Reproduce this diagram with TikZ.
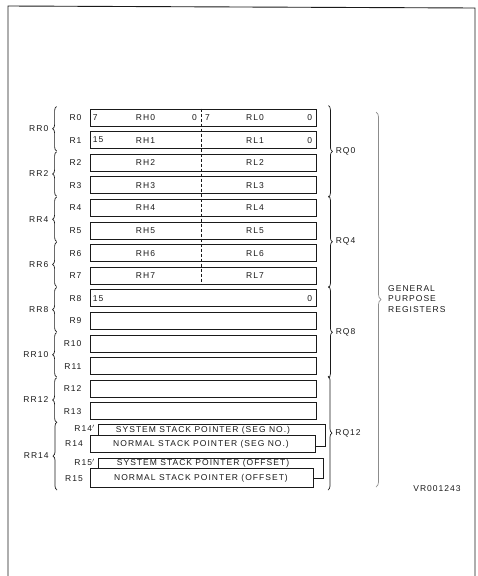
\documentclass[tikz,border=0pt]{standalone}
\usepackage{fontspec}
\setsansfont[LetterSpace=12]{Liberation Sans}
\usetikzlibrary{decorations.pathreplacing,positioning}
\definecolor{ink}{HTML}{1A1A1A}
\definecolor{faded}{HTML}{8C8C8C}
\tikzset{
  reg/.style={draw=ink,line width=.8pt,fill=white,minimum width=226pt,minimum height=17pt,inner sep=0pt},
  spbox/.style={draw=ink,line width=.8pt,fill=white,inner sep=0pt},
  txt/.style={font=\sffamily\fontsize{8.5}{10.5}\selectfont,text=ink,inner sep=1pt},
  brc/.style={decorate,decoration={brace,amplitude=4pt},draw=ink,line width=.7pt},
  brcf/.style={brc,draw=faded,decoration={brace,amplitude=5pt}},
  divl/.style={draw=ink,line width=.7pt,dash pattern=on 3pt off 2pt},
}
\begin{document}
\begin{tikzpicture}[x=1pt,y=-1pt]
  \useasboundingbox (0,0) rectangle (478,576);
  \draw[ink,line width=.9pt] (8,576) -- (8,6) -- (475,8) -- (475,576);

  % R0 ... R13
  \foreach \i in {0,...,13}{
    \node[reg] (r\i) at (203,{117.5+22.6*\i}) {};
    \node[txt,left=7pt of r\i] (n\i) {R\i};
  }
  \foreach \i in {0,...,7}{
    \node[txt] (rh\i) at (145.5,{117.5+22.6*\i}) {RH\i};
    \node[txt] (rl\i) at (255,{117.5+22.6*\i}) {RL\i};
  }
  \draw[divl] ([xshift=-2pt]r0.north) -- ([xshift=-2pt]r7.south);

  % bit numbers
  \node[txt,anchor=west] (b0a) at ([xshift=2pt]r0.west) {7};
  \node[txt,anchor=east] (b0b) at (198,117.5) {0};
  \node[txt,anchor=west] (b0c) at (204,117.5) {7};
  \node[txt,anchor=east] (b0d) at ([xshift=-3pt]r0.east) {0};
  \node[txt,anchor=west] (b1a) at ([xshift=2pt]r1.west) {15};
  \node[txt,anchor=east] (b1b) at ([xshift=-3pt]r1.east) {0};
  \node[txt,anchor=west] (b8a) at ([xshift=2pt]r8.west) {15};
  \node[txt,anchor=east] (b8b) at ([xshift=-3pt]r8.east) {0};

  % stack pointers
  \node[spbox,minimum width=227pt,minimum height=22pt] (r14s) at (211.5,435) {};
  \node[spbox,minimum width=225pt,minimum height=17pt] (r14) at (202.5,443.5) {};
  \node[spbox,minimum width=225pt,minimum height=20pt] (r15s) at (210.5,468) {};
  \node[spbox,minimum width=223pt,minimum height=19pt] (r15) at (201.5,478) {};
  \node[txt] (t14s) at (203,430) {SYSTEM STACK POINTER (SEG NO.)};
  \node[txt] (t14) at (201,444) {NORMAL STACK POINTER (SEG NO.)};
  \node[txt] (t15s) at (203,463) {SYSTEM STACK POINTER (OFFSET)};
  \node[txt] (t15) at (201,478) {NORMAL STACK POINTER (OFFSET)};
  \node[txt,anchor=east] (n14s) at (96,428) {R14$'$};
  \node[txt,anchor=east] (n14) at (84,444) {R14};
  \node[txt,anchor=east] (n15s) at (96,462) {R15$'$};
  \node[txt,anchor=east] (n15) at (84,479) {R15};

  % register pairs
  \foreach \k [evaluate=\k as \j using int(\k+1)] in {0,2,...,12}
    \draw[brc] ([xshift=-33pt,yshift=-2pt]r\j.south west) -- node[txt,left=7pt] (rr\k) {RR\k} ([xshift=-33pt,yshift=2pt]r\k.north west);
  \draw[brc] (57,490) -- node[txt,left=7pt] (rr14) {RR14} (57,422);

  % register quads
  \foreach \k [evaluate=\k as \j using int(\k+3)] in {0,4,8}
    \draw[brc] ([xshift=12pt,yshift=3pt]r\k.north east) -- node[txt,right=6pt] (rq\k) {RQ\k} ([xshift=12pt,yshift=-3pt]r\j.south east);
  \draw[brc] (328,376) -- node[txt,right=6pt] (rq12) {RQ12} (328,490);

  % whole file
  \draw[brcf] (376,112) -- (376,487);
  \node[txt,anchor=west,align=left] (gpr) at (387,299) {GENERAL\\PURPOSE\\REGISTERS};
  \node[txt] (fig) at (437,489) {VR001243};
\end{tikzpicture}
\end{document}
